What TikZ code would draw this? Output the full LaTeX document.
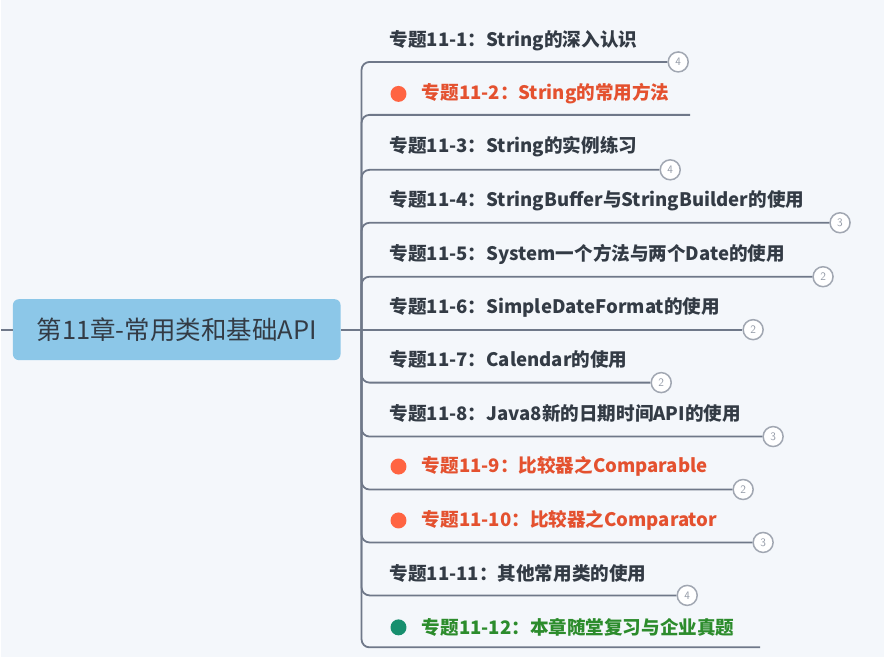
\documentclass[tikz,border=0pt]{standalone}
\usepackage{fontspec}
\newfontfamily\cjk{Noto Sans CJK SC}
\usetikzlibrary{positioning}
\definecolor{bgcol}{HTML}{F4F7FB}
\definecolor{rootblue}{HTML}{8CC7E8}
\definecolor{linegray}{HTML}{6F7889}
\definecolor{txtgray}{HTML}{333B45}
\definecolor{hotdot}{HTML}{FF6442}
\definecolor{hottxt}{HTML}{E4512F}
\definecolor{greendot}{HTML}{178F6E}
\definecolor{greentxt}{HTML}{2C8C2C}

\begin{document}
\begin{tikzpicture}[x=1pt, y=-1pt,
	branch/.style={draw=linegray, line width=1.8pt, rounded corners=8pt},
	rootbox/.style={rounded corners=6pt, fill=rootblue, minimum width=328pt, minimum height=61pt, inner sep=0pt, font=\cjk\fontsize{25.5}{25.5}\selectfont, text=txtgray},
	item/.style={anchor=base west, inner sep=0pt, font=\cjk\bfseries\fontsize{18.6}{18.6}\selectfont, text=txtgray},
	badge/.style={circle, draw=linegray!65, fill=white, line width=1.5pt, minimum size=20pt, inner sep=0pt, font=\sffamily\fontsize{11.5}{11.5}\selectfont, text=linegray!75},
	dot/.style={circle, minimum size=16pt, inner sep=0pt}
	]
	
	% Hintergrund
	\fill[bgcol] (0,0) rectangle (884,658);
	
	% Wurzel
	\node[rootbox] (root) at (176,330) {第11章-常用类和基础API};
	\coordinate (lft) at (0,330);
	\coordinate (trunk) at (361,330);
	\draw[branch] (lft) -- (root.west);
	
	% Themen
	\node[item] (t1) at (389,47) {专题11-1：String的深入认识};
	\node[dot, fill=hotdot] (d2) at (398,94) {};
	\node[item, text=hottxt, right=15pt of d2.east, anchor=west] (t2) {专题11-2：String的常用方法};
	\node[item] (t3) at (389,153) {专题11-3：String的实例练习};
	\node[item] (t4) at (389,207) {专题11-4：StringBuffer与StringBuilder的使用};
	\node[item] (t5) at (389,261) {专题11-5：System一个方法与两个Date的使用};
	\node[item] (t6) at (389,314) {专题11-6：SimpleDateFormat的使用};
	\node[item] (t7) at (389,367) {专题11-7：Calendar的使用};
	\node[item] (t8) at (389,421) {专题11-8：Java8新的日期时间API的使用};
	\node[dot, fill=hotdot] (d9) at (398,467) {};
	\node[item, text=hottxt, right=15pt of d9.east, anchor=west] (t9) {专题11-9：比较器之Comparable};
	\node[dot, fill=hotdot] (d10) at (398,521) {};
	\node[item, text=hottxt, right=15pt of d10.east, anchor=west] (t10) {专题11-10：比较器之Comparator};
	\node[item] (t11) at (389,581) {专题11-11：其他常用类的使用};
	\node[dot, fill=greendot] (d12) at (398,628) {};
	\node[item, text=greentxt, right=15pt of d12.east, anchor=west] (t12) {专题11-12：本章随堂复习与企业真题};
	
	% Zaehler
	\node[badge] (b1) at (678,62) {4};
	\coordinate (e2) at (690,115);
	\node[badge] (b3) at (670,170) {4};
	\node[badge] (b4) at (840,223) {3};
	\node[badge] (b5) at (823,277) {2};
	\node[badge] (b6) at (753,330) {2};
	\node[badge] (b7) at (661,383) {2};
	\node[badge] (b8) at (773,437) {3};
	\node[badge] (b9) at (743,490) {2};
	\node[badge] (b10) at (763,543) {3};
	\node[badge] (b11) at (687,596) {4};
	\coordinate (e12) at (760,648);
	
	% Aeste
	\draw[branch] (root.east) -- (b6.west);
	\foreach \b in {b1.west,e2,b3.west,b4.west,b5.west,b7.west,b8.west,b9.west,b10.west,b11.west,e12}
		\draw[branch] (\b) -| (trunk);
	\end{tikzpicture}
\end{document}
